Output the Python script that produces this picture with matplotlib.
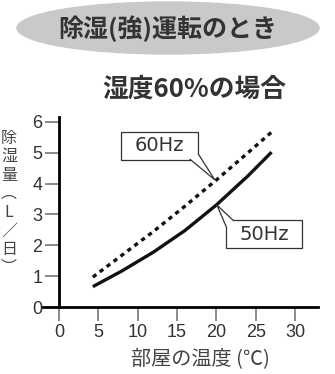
import matplotlib.pyplot as plt
from matplotlib.patches import Ellipse, Rectangle, Polygon

plt.rcParams['font.family'] = ['Noto Sans CJK JP', 'DejaVu Sans']

# データ
temps = [4.3, 8, 12, 16, 20, 24, 27]
hz50 = [0.66, 1.17, 1.78, 2.48, 3.31, 4.25, 5.02]
hz60 = [0.97, 1.68, 2.45, 3.27, 4.12, 5.0, 5.67]
xticks = [0, 5, 10, 15, 20, 25, 30]
yticks = [0, 1, 2, 3, 4, 5, 6]

title = '除湿(強)運転のとき'
subtitle = '湿度60%の場合'
xlabel = '部屋の温度 (℃)'
ylabel = '除\n湿\n量\n︵\nL\n／\n日\n︶'

fig = plt.figure(figsize=(3.35, 3.74), dpi=100)

# タイトルの楕円
fig.patches.append(Ellipse((168 / 335, 1 - 28 / 374), 302 / 335, 52 / 374,
                           transform=fig.transFigure, color='#c9c9c9', zorder=0))
fig.text(168 / 335, 1 - 29 / 374, title, ha='center', va='center',
         fontsize=18, fontweight='bold', color='#333333')
fig.text(194 / 335, 1 - 89 / 374, subtitle, ha='center', va='center',
         fontsize=18.5, fontweight='bold', color='#333333')
fig.text(9 / 335, 1 - 203 / 374, ylabel, ha='center', va='center',
         fontsize=11.5, color='#444444', linespacing=1.12)

ax = fig.add_axes([43 / 335, 67 / 374, 275 / 335, 190 / 374])
ax.set_xlim(-2.03, 32.9)
ax.set_ylim(0, 6.16)
for s in ['top', 'right']:
    ax.spines[s].set_visible(False)
ax.spines['left'].set_position(('data', 0))
ax.spines['left'].set_linewidth(2)
ax.spines['bottom'].set_linewidth(2)
ax.set_xticks(xticks)
ax.set_yticks(yticks)
ax.tick_params(length=10, width=1.2, color='#777777', labelsize=13,
               labelcolor='#333333', pad=2)
for lb in ax.get_xticklabels() + ax.get_yticklabels():
    lb.set_fontfamily('Liberation Sans')

ax.plot(temps, hz50, color='#111111', lw=2.4, solid_capstyle='butt')
ax.plot(temps, hz60, color='#111111', lw=2.4, linestyle=(0, (1.3, 1.3)),
        dash_capstyle='butt')

ax.set_xlabel(xlabel, fontsize=14.5, color='#444444', va='center')
ax.xaxis.set_label_coords((200 - 43) / 275, -53 / 190)


# 吹き出し
def callout(x0, y0, x1, y1, label, wedge):
    ax.add_patch(Rectangle((x0, y0), x1 - x0, y1 - y0, facecolor='white',
                           edgecolor='#333333', lw=0.9, zorder=3))
    ax.add_patch(Polygon(wedge, closed=False, facecolor='white',
                         edgecolor='#333333', lw=0.9, zorder=4))
    ax.text((x0 + x1) / 2, (y0 + y1) / 2, label, ha='center', va='center',
            fontsize=14, color='#333333', family='DejaVu Sans', zorder=5)


callout(7.9, 4.77, 17.7, 5.68, '60Hz',
        [(16.6, 4.8), (19.8, 4.12), (17.65, 4.98)])
callout(21.2, 1.91, 30.9, 2.82, '50Hz',
        [(21.25, 2.6), (20.05, 3.31), (22.2, 2.79)])

fig.savefig('out.png', dpi=100)
